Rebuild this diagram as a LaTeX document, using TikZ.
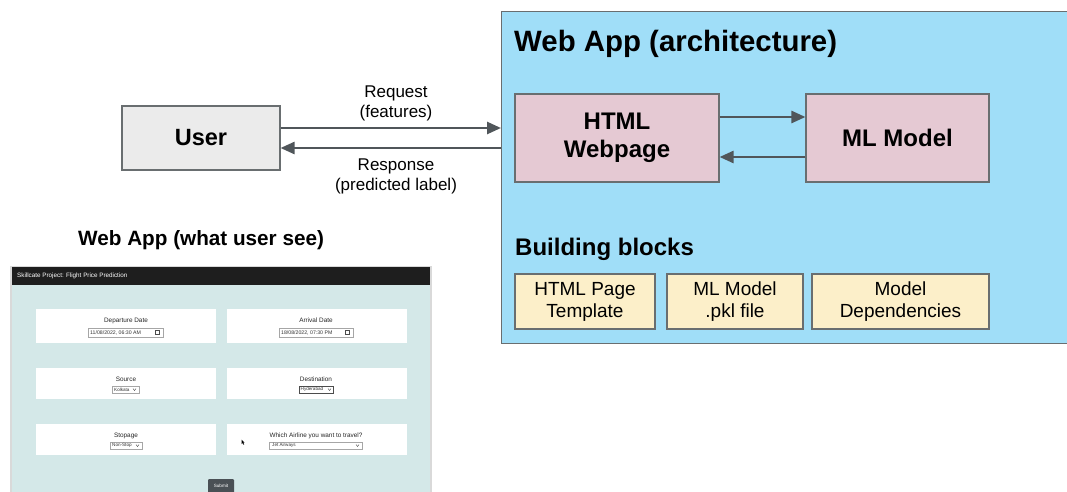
\documentclass[tikz,border=0pt]{standalone}
\usepackage{fontspec}
\setmainfont{Liberation Sans}
\usetikzlibrary{arrows.meta}
\definecolor{bluebg}{RGB}{160,222,248}
\definecolor{pinkbox}{RGB}{229,201,211}
\definecolor{yellowbox}{RGB}{252,239,201}
\definecolor{usergray}{RGB}{235,235,235}
\definecolor{edgegray}{RGB}{105,110,112}
\definecolor{arrowgray}{RGB}{80,86,90}
\definecolor{formbg}{RGB}{212,232,232}
\definecolor{headbg}{RGB}{30,30,30}
\definecolor{btngray}{RGB}{74,80,85}
\begin{document}
\begin{tikzpicture}[x=1pt,y=-1pt,
  box/.style={draw=edgegray,line width=1.1pt,inner sep=0pt,align=center},
  bigtext/.style={font=\fontsize{24}{28}\selectfont\bfseries},
  smalltext/.style={font=\fontsize{19}{22}\selectfont},
  lbl/.style={font=\fontsize{17}{20}\selectfont,align=center,inner sep=0pt},
  arr/.style={draw=arrowgray,line width=2.5pt,-{Triangle[length=14pt,width=12pt]}},
  card/.style={fill=white,draw=none},
  field/.style={fill=white,draw=gray!70,line width=0.5pt},
  ftext/.style={font=\fontsize{6.4}{7}\selectfont,text=black!85,inner sep=0pt},
  itext/.style={font=\fontsize{5.2}{6}\selectfont,text=black!80,inner sep=0pt},
  stext/.style={font=\fontsize{4.6}{5}\selectfont,text=black!80,inner sep=0pt}
]
\useasboundingbox (0,0) rectangle (1067,492);
\fill[white] (0,0) rectangle (1067,492);

% ---------- architecture panel ----------
\node[box,fill=bluebg,minimum width=576pt,minimum height=332pt,anchor=north west] (webapp) at (501,11) {};
\node[anchor=base west,inner sep=0pt,font=\fontsize{29.4}{34}\selectfont\bfseries] (title) at (514,52) {Web App (architecture)};

\node[box,fill=pinkbox,bigtext,minimum width=204pt,minimum height=88pt] (html) at (617,138) {HTML\\Webpage};
\node[box,fill=pinkbox,bigtext,minimum width=183pt,minimum height=88pt] (ml) at (897.5,138) {ML Model};

\draw[arr] ([yshift=21pt]html.east) -- ([yshift=21pt]ml.west);
\draw[arr] ([yshift=-19pt]ml.west) -- ([yshift=-19pt]html.east);

\node[anchor=base west,inner sep=0pt,font=\fontsize{24}{28}\selectfont\bfseries] (bb) at (515,255) {Building blocks};

\node[box,fill=yellowbox,smalltext,minimum width=140pt,minimum height=55pt] (b1) at (585,301.5) {HTML Page\\Template};
\node[box,fill=yellowbox,smalltext,minimum width=136pt,minimum height=55pt] (b2) at (735,301.5) {ML Model\\.pkl file};
\node[box,fill=yellowbox,smalltext,minimum width=177pt,minimum height=55pt] (b3) at (900.5,301.5) {Model\\Dependencies};

% ---------- user ----------
\node[box,fill=usergray,minimum width=158pt,minimum height=64pt,font=\fontsize{23.5}{28}\selectfont\bfseries] (user) at (201,138) {User};

\coordinate (reqA) at ([yshift=10pt]user.east);
\coordinate (reqB) at (reqA -| webapp.west);
\coordinate (resA) at ([yshift=-10pt]user.east);
\coordinate (resB) at (resA -| webapp.west);
\draw[arr] (reqA) -- (reqB);
\draw[arr] (resB) -- (resA);

\node[lbl] (req) at (396,103.5) {Request\\(features)};
\node[lbl] (res) at (396,176.5) {Response\\(predicted label)};

% ---------- user view ----------
\node[anchor=base west,inner sep=0pt,font=\fontsize{20.7}{24}\selectfont\bfseries] (uv) at (78,245) {Web App (what user see)};

\fill[gray!30] (10,266) rectangle (432,495);
\fill[formbg] (12,267) rectangle (430,495);
\fill[headbg] (12,267) rectangle (430,285);
\node[anchor=west,inner sep=0pt,text=white,font=\fontsize{6.3}{7}\selectfont] at (17,276) {Skillcate Project: Flight Price Prediction};

% cards
\fill[card] (36,309) rectangle (216,343);
\fill[card] (227,309) rectangle (407,343);
\fill[card] (36,368) rectangle (216,399);
\fill[card] (227,368) rectangle (407,399);
\fill[card] (36,424) rectangle (216,455);
\fill[card] (227,424) rectangle (407,455);

% row 1
\node[ftext,anchor=base] at (126,322) {Departure Date};
\draw[field] (88,328) rectangle (163,337);
\node[itext,anchor=west] at (90,332.5) {11/08/2022, 06:30 AM};
\draw[black!70,line width=0.5pt] (155,330.5) rectangle (159.5,334.5);
\node[ftext,anchor=base] at (316,322) {Arrival Date};
\draw[field] (279,328) rectangle (353,337);
\node[itext,anchor=west] at (281,332.5) {18/08/2022, 07:30 PM};
\draw[black!70,line width=0.5pt] (345,330.5) rectangle (349.5,334.5);

% row 2
\node[ftext,anchor=base] at (126,381) {Source};
\draw[field] (112,386) rectangle (139,393);
\node[stext,anchor=west] at (114,389.5) {Kolkata};
\draw[black!70,line width=0.4pt] (133,388.5) -- (134.5,390.5) -- (136,388.5);
\node[ftext,anchor=base] at (316,381) {Destination};
\draw[field,draw=black!70] (299,386) rectangle (333,393);
\node[stext,anchor=west] at (300.5,389.5) {Hyderabad};
\draw[black!70,line width=0.4pt] (328,388.5) -- (329.5,390.5) -- (331,388.5);

% row 3
\node[ftext,anchor=base] at (126,437) {Stopage};
\draw[field] (110,442) rectangle (142,449);
\node[stext,anchor=west] at (112,445.5) {Non-Stop};
\draw[black!70,line width=0.4pt] (136,444.5) -- (137.5,446.5) -- (139,444.5);
\node[ftext,anchor=base] at (316,437) {Which Airline you want to travel?};
\draw[field] (269,442) rectangle (362,449);
\node[stext,anchor=west] at (272,445.5) {Jet Airways};
\draw[black!70,line width=0.4pt] (356,444.5) -- (357.5,446.5) -- (359,444.5);
\fill[black] (241.5,439.5) -- (241.5,444) -- (242.6,443) -- (243.6,444.8) -- (244.2,444.4) -- (243.3,442.7) -- (244.6,442.6) -- cycle;

% submit
\fill[btngray,rounded corners=1pt] (208,479) rectangle (234,494);
\node[stext,text=white,anchor=center] at (221,486) {Submit};
\end{tikzpicture}
\end{document}
